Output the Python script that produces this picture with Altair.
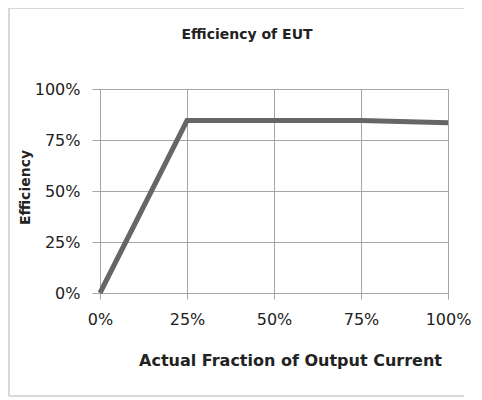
import altair as alt
import pandas as pd

fraction = [0.0, 0.25, 0.50, 0.75, 1.00]
efficiency = [0.0, 0.845, 0.845, 0.845, 0.835]
tick_values = [0, 0.25, 0.5, 0.75, 1.0]
chart_title = "Efficiency of EUT"

df = pd.DataFrame({"Fraction": fraction, "Efficiency": efficiency})

FONT = "DejaVu Sans"
GRID = "#a6a6a6"
TEXT = "#222222"
FRAME = "#cccccc"

common_axis = dict(
    values=tick_values, format=".0%", grid=True, gridColor=GRID,
    domainColor=GRID, tickColor=GRID, labelColor=TEXT, titleColor=TEXT,
    labelFont=FONT, titleFont=FONT, labelFontSize=16, titleFontWeight="bold",
    labelFlush=False,
)

one = pd.DataFrame({"a": [0]})

frame_left = alt.Chart(one).mark_rule(color=FRAME, strokeWidth=1.5).encode(
    x=alt.value(-91), y=alt.value(-81), y2=alt.value(307))
frame_top = alt.Chart(one).mark_rule(color=FRAME, strokeWidth=1.5).encode(
    x=alt.value(-91), x2=alt.value(364), y=alt.value(-81))
frame_bottom = alt.Chart(one).mark_rule(color=FRAME, strokeWidth=1.5).encode(
    x=alt.value(-91), x2=alt.value(364), y=alt.value(307))

title = alt.Chart(one).mark_text(
    text=chart_title, font=FONT, fontSize=14, fontWeight="bold", color=TEXT,
    align="center", baseline="alphabetic"
).encode(x=alt.value(147), y=alt.value(-50))

line = alt.Chart(df).mark_line(color="#666666", strokeWidth=5).encode(
    x=alt.X("Fraction:Q",
            scale=alt.Scale(domain=[0, 1], nice=False),
            axis=alt.Axis(title="Actual Fraction of Output Current",
                          titleX=190, titleY=67, titleBaseline="middle",
                          titleFontSize=16, labelPadding=12, tickSize=6,
                          **common_axis)),
    y=alt.Y("Efficiency:Q",
            scale=alt.Scale(domain=[0, 1], nice=False),
            axis=alt.Axis(title="Efficiency",
                          titleX=-75, titleY=98, titleBaseline="middle",
                          titleFontSize=14, labelPadding=12, tickSize=8,
                          **common_axis)),
)

chart = alt.layer(frame_left, frame_top, frame_bottom, title, line).properties(
    width=348, height=204,
    autosize=alt.AutoSizeParams(type="none"),
    padding={"left": 92, "top": 81, "right": 26, "bottom": 107},
).configure_view(stroke=GRID, strokeWidth=1)

chart.save("out.html", embed_options={"renderer": "svg", "actions": False})
